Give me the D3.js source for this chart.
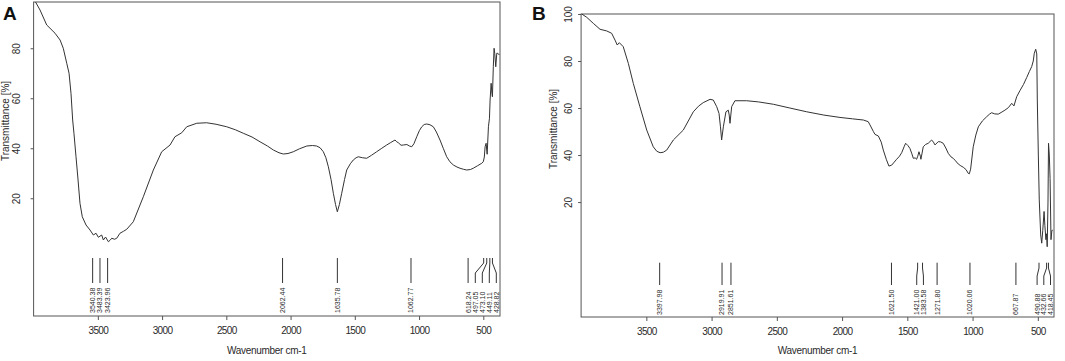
<!DOCTYPE html>
<html><head><meta charset="utf-8">
<script src="https://cdn.jsdelivr.net/npm/d3@7/dist/d3.min.js"></script>
<style>body{margin:0;background:#fff}svg{display:block}text{font-family:Arial,"Liberation Sans",sans-serif}</style>
</head><body>
<svg id="c" width="1065" height="361"></svg>
<script>
// ---------- DATA ----------
const xTicks = [3500, 3000, 2500, 2000, 1500, 1000, 500];
const yTicksA = [20, 40, 60, 80];
const yTicksB = [20, 40, 60, 80, 100];

const specAWavenumber = [3985,3950,3898,3872,3833,3794,3769,3742,3724,3709,3696,3686,3670,3654,3639,3621,3592,3561,3535,3514,3496,3470,3457,3440,3418,3405,3392,3370,3353,3328,3300,3275,3224,3146,3068,3003,2938,2900,2847,2808,2730,2653,2580,2497,2430,2368,2300,2238,2180,2134,2090,2057,2020,1979,1930,1874,1830,1797,1770,1745,1725,1706,1685,1667,1650,1636,1620,1602,1580,1563,1535,1512,1490,1473,1440,1407,1370,1330,1290,1252,1220,1187,1174,1161,1140,1122,1095,1075,1057,1040,1018,998,979,960,940,915,889,865,837,810,785,760,733,705,681,655,629,600,578,545,512,500,492,486,478,470,460,452,447,439,433,429,422,416,411,403,395,387,375];
const specATransmittance = [98.5,95.3,89.3,88,86,83.3,80,74,70,62,51.3,46,36.6,27.3,18,12.6,9.3,7.3,5.3,6,4.4,5.3,3.3,4.5,2.6,3.2,4,3.6,4,6,6.8,7.6,10.6,20.6,31.3,38.6,41.3,44.6,46.2,48.6,50,50.2,49.6,48.6,47.4,46,44.5,42.6,40.9,39.3,38.2,37.7,37.9,38.6,39.8,40.9,41.1,40.9,40.2,38.6,36.2,32.6,27.5,22,17.5,14.6,17.5,22,27.5,31.3,33.8,35.3,36.2,36.6,36.2,36,37.2,38.6,40,41.3,42.3,43.3,42.6,42.2,41.2,41.3,41.5,40.9,40.6,41.8,44.6,47,48.6,49.5,49.7,49.4,48.6,46.5,43.3,39.8,36.6,34.6,33.3,32.5,32,31.6,31.3,31.5,32,33,34,34.6,36.5,40.6,42,37.6,48.6,52,59.3,66,62,60.6,72.6,80,78,72.6,78,78,77.3];
const peaksA = [3540.38, 3483.39, 3423.96, 2062.44, 1635.78, 1062.77, 618.24, 497.05, 473.10, 449.11, 428.82];
const peakLabelsA = ["3540.38","3483.39","3423.96","2062.44","1635.78","1062.77","618.24","497.05","473.10","449.11","428.82"];

const specBWavenumber = [3995,3957,3906,3855,3804,3766,3740,3723,3707,3677,3638,3600,3549,3497,3447,3420,3395,3370,3344,3293,3217,3140,3100,3064,3012,2987,2961,2943,2932,2923,2910,2890,2872,2865,2859,2846,2821,2731,2640,2527,2400,2271,2140,2016,1920,1837,1800,1786,1760,1748,1722,1700,1684,1660,1641,1620,1600,1582,1560,1543,1525,1513,1495,1480,1465,1454,1440,1429,1420,1411,1400,1396,1388,1378,1360,1340,1314,1300,1288,1263,1245,1225,1205,1186,1165,1148,1130,1110,1090,1071,1050,1033,1025,1015,995,975,956,925,892,870,854,830,803,775,752,725,700,683,662,637,610,585,565,547,535,527,516,508,504,496,489,478,470,462,452,446,438,433,428,422,418,412,406,399,392,386];
const specBTransmittance = [100,98.6,96,93.5,92.8,91.8,88.9,86.8,87.8,86.1,79,70.5,60.5,50.6,43.5,41.6,41,41.2,42.1,46.4,50.6,58.4,60.8,62.3,63.7,63.4,60.6,57.7,52,46.4,52,58.4,59.1,57,53.5,60.6,63.1,63.1,62.6,61.6,60,58.4,57,56,55.4,54.9,54.2,52.8,50,48.8,48.1,45.5,42.1,38,35.3,35.7,37,38.2,39.5,41,43.5,45,44,42.8,40.5,38.6,38.8,38.2,39.5,41.4,39.5,38.2,40.5,43.5,44.5,45,46.4,45.5,44.3,45.7,45.6,45,43,40.7,39.2,38.6,37.5,36.2,35.4,34.8,33.8,32.2,32,34,43.5,48.5,52,54.5,56.3,57.4,58,57.5,57.4,58.3,59.1,60.2,62,60.9,64.8,67.4,70,73,75.5,77.6,80,83.3,85,83,63.4,40,20.9,6,2.5,8,16,10,4,6.5,1,20,45,40,30,4,8,8];
const peaksB = [3397.98, 2919.91, 2851.61, 1621.50, 1421.00, 1383.58, 1271.80, 1020.06, 667.87, 490.88, 432.66, 418.45];
const peakLabelsB = ["3397.98","2919.91","2851.61","1621.50","1421.00","1383.58","1271.80","1020.06","667.87","490.88","432.66","418.45"];

// ---------- DRAW ----------
const svg = d3.select("#c");
const ink = "#2a2a2a";

function spread(xs, gap, maxX) {
  const idx = xs.map((x, i) => i).sort((a, b) => xs[a] - xs[b]);
  const p = idx.map(i => xs[i]);
  for (let it = 0; it < 400; it++) {
    let moved = false;
    for (let k = 1; k < p.length; k++) {
      const d = p[k] - p[k - 1];
      if (d < gap - 1e-6) { const s = (gap - d) / 2; p[k] += s; p[k - 1] -= s; moved = true; }
    }
    for (let k = p.length - 1; k >= 0; k--) {
      const lim = maxX - (p.length - 1 - k) * gap;
      if (p[k] > lim) { p[k] = lim; moved = true; }
    }
    if (!moved) break;
  }
  const out = new Array(xs.length);
  idx.forEach((i, k) => out[i] = p[k]);
  return out;
}

function panel(o) {
  const g = svg.append("g");
  const x = d3.scaleLinear().domain(o.xDomain).range([o.left, o.right]);
  const y = d3.scaleLinear().domain(o.yDomain).range([o.bottom, o.top]);

  // frame
  g.append("rect").attr("x", o.left).attr("y", o.top)
    .attr("width", o.right - o.left).attr("height", o.bottom - o.top)
    .attr("fill", "none").attr("stroke", "#555").attr("stroke-width", 1);

  // x axis
  const xa = g.append("g").attr("transform", `translate(0,${o.bottom})`)
    .call(d3.axisBottom(x).tickValues(xTicks).tickSize(4).tickSizeOuter(0).tickFormat(d3.format("d")));
  xa.select(".domain").remove();
  xa.selectAll("line").attr("stroke", "#555");
  xa.selectAll("text").attr("font-size", 10).attr("fill", ink).attr("dy", null).attr("y", 18)
    .style("letter-spacing", "-0.6px");

  // y axis
  const ya = g.append("g").attr("transform", `translate(${o.left},0)`)
    .call(d3.axisLeft(y).tickValues(o.yTicks).tickSize(3).tickSizeOuter(0));
  ya.select(".domain").remove();
  ya.selectAll("line").attr("stroke", "#555");
  ya.selectAll("text").attr("font-size", 10).attr("fill", ink)
    .attr("x", null).attr("dy", null)
    .attr("text-anchor", "middle")
    .attr("transform", `translate(${-o.yLabOff},0) rotate(-90)`)
    .attr("y", 0);

  // titles
  g.append("text").attr("x", (o.left + o.right) / 2).attr("y", 354)
    .attr("text-anchor", "middle").attr("font-size", 10).attr("fill", ink)
    .style("letter-spacing", "-0.3px").text("Wavenumber cm-1");
  g.append("text").attr("transform", `translate(${o.yTitleX},${o.yTitleY}) rotate(-90)`)
    .attr("text-anchor", "middle").attr("font-size", 10).attr("fill", ink)
    .text("Transmittance [%]");
  g.append("text").attr("x", o.letterX).attr("y", 20).attr("font-size", 19)
    .attr("font-weight", "bold").attr("fill", "#111").text(o.letter);

  // spectrum
  const pts = o.wn.map((w, i) => [w, o.tr[i]]);
  g.append("path").datum(pts)
    .attr("fill", "none").attr("stroke", "#333").attr("stroke-width", 1)
    .attr("stroke-linejoin", "round")
    .attr("d", d3.line().x(d => x(d[0])).y(d => y(d[1])));

  // peak markers
  const px = o.peaks.map(p => x(p));
  const lx = spread(px, o.gap, o.right - 3.5);
  const [y0, y1, y2, y3] = o.peakY;
  o.peaks.forEach((p, i) => {
    g.append("path")
      .attr("d", d3.line()([[px[i], y0], [px[i], y1], [lx[i], y2], [lx[i], y3]]))
      .attr("fill", "none").attr("stroke", "#333").attr("stroke-width", 1);
    g.append("text")
      .attr("transform", `translate(${lx[i] + 2.4},${o.labelBottom}) rotate(-90)`)
      .attr("text-anchor", "start").attr("font-size", 7).attr("fill", ink)
      .text(o.peakLabels[i]);
  });
}

panel({
  letter: "A", letterX: 3,
  left: 33.6, right: 500, top: 2, bottom: 316,
  xDomain: [4000, 370], yDomain: [-27.1, 98.5], yTicks: yTicksA,
  yLabOff: 14, yTitleX: 9, yTitleY: 121,
  wn: specAWavenumber, tr: specATransmittance,
  peaks: peaksA, peakLabels: peakLabelsA, gap: 7,
  peakY: [258, 263, 273, 283], labelBottom: 313
});
panel({
  letter: "B", letterX: 532,
  left: 581.1, right: 1054, top: 14, bottom: 317,
  xDomain: [4000, 376], yDomain: [-28.9, 100], yTicks: yTicksB,
  yLabOff: 9.5, yTitleX: 557, yTitleY: 129,
  wn: specBWavenumber, tr: specBTransmittance,
  peaks: peaksB, peakLabels: peakLabelsB, gap: 6.7,
  peakY: [262.7, 268, 276, 285], labelBottom: 315
});
</script>
</body></html>
